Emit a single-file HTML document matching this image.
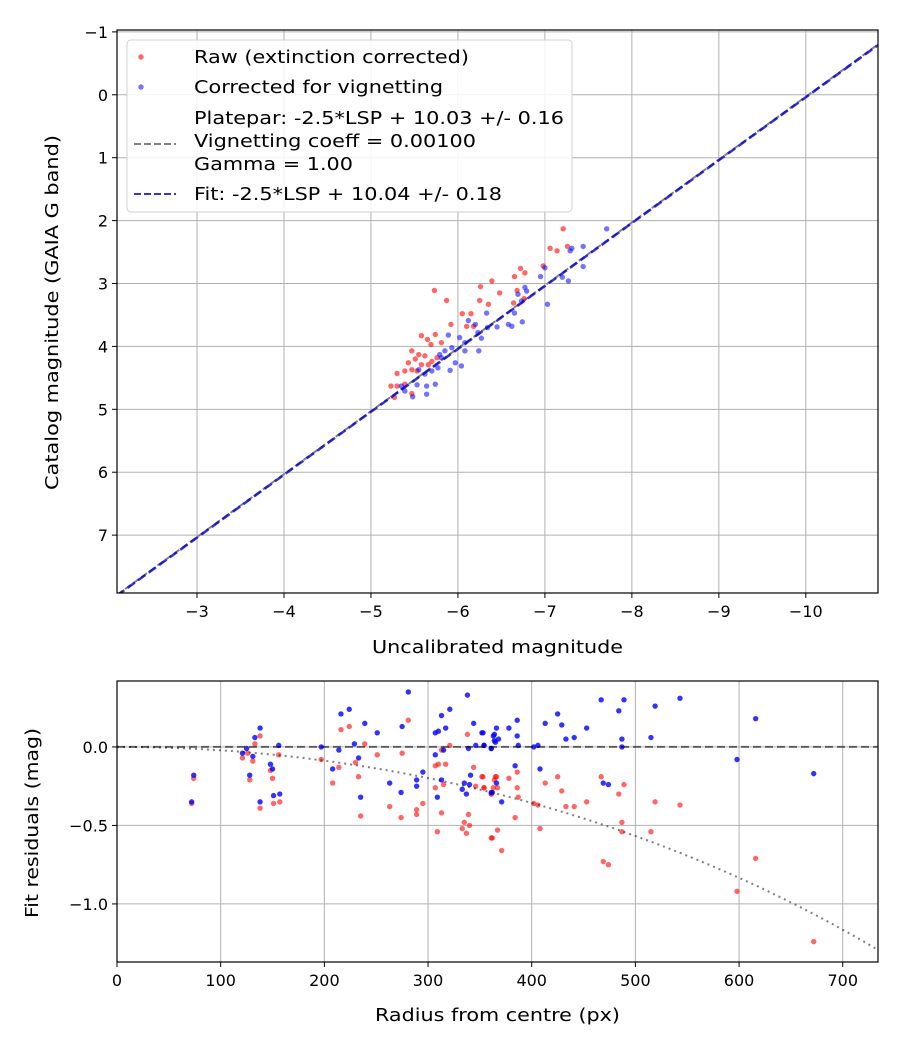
<!DOCTYPE html>
<html><head><meta charset="utf-8"><style>
body{margin:0;background:#fff;}
svg{display:block;font-family:"DejaVu Sans","Liberation Sans",sans-serif;}
</style></head><body>
<svg id="chart" width="900" height="1050" viewBox="0 0 900 1050" xmlns="http://www.w3.org/2000/svg"></svg>
<script>
// ---------- Top chart data ----------
const rawX = [-7.21,-7.06,-7.14,-7.26,-6.98,-6.72,-6.77,-6.65,-6.39,-6.26,-6.48,-5.73,-5.87,-6.25,-6.35,-6.68,-6.64,-6.76,-6.05,-6.15,-5.92,-6.1,-6.18,-5.74,-5.58,-5.65,-5.69,-5.47,-5.55,-5.62,-5.51,-5.43,-5.58,-5.47,-5.39,-5.3,-5.53,-5.66,-5.76,-5.81,-5.23,-5.3,-5.27,-5.47,-5.39,-5.7];
const rawY = [2.13,2.44,2.48,2.41,2.72,2.76,2.83,2.89,2.96,3.05,3.15,3.11,3.27,3.27,3.33,3.11,3.31,3.24,3.48,3.48,3.65,3.68,3.68,3.81,3.83,3.89,3.97,4.07,4.13,4.15,4.2,4.26,4.29,4.37,4.39,4.43,4.39,4.29,4.18,3.94,4.63,4.63,4.81,4.75,4.6,4.24];
const corX = [-7.71,-7.44,-7.31,-7.29,-7.44,-7.27,-7.2,-7.0,-6.95,-7.03,-6.77,-6.79,-6.69,-6.73,-6.65,-6.74,-6.58,-6.62,-6.45,-6.33,-6.34,-6.12,-6.2,-6.23,-6.27,-6.24,-6.08,-6.02,-5.89,-5.93,-5.85,-5.79,-6.04,-5.97,-5.91,-5.77,-5.7,-5.62,-5.55,-6.08,-5.74,-5.64,-5.64,-5.48,-5.35,-5.39,-5.53,-5.81];
const corY = [2.13,2.41,2.44,2.48,2.73,2.96,2.9,2.75,2.89,3.33,3.06,3.12,3.17,3.28,3.47,3.61,3.65,3.68,3.69,3.47,3.7,3.59,3.65,3.78,3.87,4.07,3.94,3.86,3.82,4.02,4.07,4.13,4.31,4.26,4.38,4.34,4.39,4.44,4.37,4.07,4.6,4.63,4.76,4.8,4.63,4.71,4.61,4.18];
const topXTicks = [-3,-4,-5,-6,-7,-8,-9,-10];
const topYTicks = [-1,0,1,2,3,4,5,6,7];
const plateparZP = 10.03;
const fitZP = 10.04;
// ---------- Bottom chart data ----------
const radCor = [74,72,138,133,125,121,131,128,138,148,150,151,157,156,197,216,224,214,208,229,239,233,251,235,263,274,275,281,295,289,289,307,310,313,321,317,307,315,313,309,338,344,352,339,346,354,361,363,365,341,335,340,333,337,361,353,354,361,364,366,364,368,378,386,386,387,402,406,413,425,429,433,441,453,467,484,489,487,487,515,519,543,616,598,672,384,408,366,362,371,469,474];
const resCor = [-0.18,-0.35,0.12,0.06,-0.01,-0.04,-0.06,-0.18,-0.35,-0.11,-0.14,-0.31,-0.30,0.01,0.0,0.21,0.24,-0.02,-0.14,0.02,0.15,-0.07,0.09,-0.32,-0.23,-0.29,0.13,0.35,-0.16,-0.21,-0.25,0.09,0.1,0.2,0.24,0.12,-0.05,-0.02,-0.21,-0.32,0.33,0.15,0.09,-0.01,0.01,0.01,-0.01,0.07,0.03,-0.18,-0.23,-0.24,-0.27,-0.3,-0.29,0.09,0.01,-0.01,0.08,0.12,0.04,0.05,0.12,0.17,0.07,0.01,0.0,0.01,0.15,0.21,0.14,0.05,0.06,0.12,0.3,0.23,0.3,0.05,0.0,0.06,0.26,0.31,0.18,-0.08,-0.17,-0.12,-0.14,-0.23,-0.29,-0.35,-0.23,-0.24];
const radRaw = [74,72,138,133,126,121,131,128,138,148,150,151,157,156,197,216,224,214,208,230,239,233,251,235,263,274,275,281,295,289,289,307,310,313,321,317,307,315,313,309,338,344,352,339,346,354,333,337,335,340,361,361,365,353,354,366,364,378,386,386,387,367,363,361,402,406,413,425,429,433,441,453,467,484,489,487,487,515,519,543,616,598,672,384,408,367,362,371,469,474];
const resRaw = [-0.2,-0.36,0.07,0.02,-0.04,-0.07,-0.09,-0.21,-0.39,-0.15,-0.2,-0.36,-0.35,-0.05,-0.08,0.11,0.13,-0.13,-0.23,-0.1,0.02,-0.19,-0.05,-0.44,-0.38,-0.45,-0.04,0.17,-0.36,-0.4,-0.43,-0.12,-0.11,-0.02,0.01,-0.11,-0.26,-0.24,-0.42,-0.54,0.08,-0.13,-0.19,-0.43,-0.25,-0.26,-0.52,-0.55,-0.48,-0.5,-0.58,-0.3,-0.19,-0.19,-0.26,-0.19,-0.21,-0.2,-0.16,-0.26,-0.32,-0.26,-0.26,-0.3,-0.36,-0.37,-0.23,-0.19,-0.28,-0.38,-0.38,-0.35,-0.19,-0.3,-0.24,-0.48,-0.54,-0.54,-0.35,-0.37,-0.71,-0.92,-1.24,-0.45,-0.52,-0.53,-0.58,-0.66,-0.73,-0.75];
const botXTicks = [0,100,200,300,400,500,600,700];
const botYTicks = [0.0,-0.5,-1.0];
const botYLabels = ["0.0","−0.5","−1.0"];
const vignCoeff = 0.001;

const NS="http://www.w3.org/2000/svg";
const svg=document.getElementById('chart');
function mk(tag,attrs,parent){const e=document.createElementNS(NS,tag);for(const k in attrs)e.setAttribute(k,attrs[k]);(parent||svg).appendChild(e);return e;}
function fmt(v){return (v<0?"−":"")+Math.abs(v);}

const T={l:117,r:878,t:30,b:593};
const txMin=-2.08, txMax=-10.83, tyMin=-1.03, tyMax=7.92;
const tx=v=>T.l+(v-txMin)/(txMax-txMin)*(T.r-T.l);
const ty=v=>T.t+(v-tyMin)/(tyMax-tyMin)*(T.b-T.t);
const B={l:117,r:878,t:681,b:962};
const bxMin=0,bxMax=734,byMin=0.42,byMax=-1.37;
const bx=v=>B.l+(v-bxMin)/(bxMax-bxMin)*(B.r-B.l);
const by=v=>B.t+(v-byMin)/(byMax-byMin)*(B.b-B.t);

mk('defs',{}).innerHTML='<clipPath id="ct"><rect x="117" y="30" width="761" height="563"/></clipPath><clipPath id="cb"><rect x="117" y="681" width="761" height="281"/></clipPath>';

const gTop=mk('g',{});


topXTicks.forEach(v=>{const x=tx(v);
 mk('line',{x1:x,x2:x,y1:T.t,y2:T.b,stroke:'#b0b0b0','stroke-width':1},gTop);
 mk('line',{x1:x,x2:x,y1:T.b,y2:T.b+5,stroke:'#000'},gTop);
 const t=mk('text',{x:x,y:T.b+24,'font-size':16,'text-anchor':'middle'});t.textContent=fmt(v);
 
 
});
topYTicks.forEach(v=>{const y=ty(v);
 mk('line',{x1:T.l,x2:T.r,y1:y,y2:y,stroke:'#b0b0b0','stroke-width':1},gTop);
 mk('line',{x1:T.l-5,x2:T.l,y1:y,y2:y,stroke:'#000'},gTop);
 const t=mk('text',{x:T.l-9,y:y+6,'font-size':16,'text-anchor':'end'});t.textContent=fmt(v);
 
 
});
const cg=mk('g',{'clip-path':'url(#ct)'});
const l1=mk('line',{x1:tx(txMin),y1:ty(txMin+plateparZP),x2:tx(txMax),y2:ty(txMax+plateparZP),stroke:'#808080','stroke-width':2,'stroke-dasharray':'7,3'},cg);


rawX.forEach((v,i)=>{const c=mk('circle',{cx:tx(v),cy:ty(rawY[i]),r:2.7,fill:'#ff0000','fill-opacity':0.6},cg);
 
 });
corX.forEach((v,i)=>{const c=mk('circle',{cx:tx(v),cy:ty(corY[i]),r:2.7,fill:'#0000ff','fill-opacity':0.55},cg);
 
 });
const l2=mk('line',{x1:tx(txMin),y1:ty(txMin+fitZP),x2:tx(txMax),y2:ty(txMax+fitZP),stroke:'#0000cc','stroke-opacity':0.8,'stroke-width':2.5,'stroke-dasharray':'9,4'},cg);


mk('rect',{x:T.l,y:T.t,width:T.r-T.l,height:T.b-T.t,fill:'none',stroke:'#000','stroke-width':1.2});

const lg=mk('g',{});


mk('rect',{x:127,y:40,width:445,height:172,rx:4,fill:'#fff','fill-opacity':0.85,stroke:'#d0d0d0'},lg);
mk('circle',{cx:141,cy:57,r:2.7,fill:'#ff0000','fill-opacity':0.6},lg);
mk('circle',{cx:141,cy:87,r:2.7,fill:'#0000ff','fill-opacity':0.55},lg);
mk('line',{x1:134,x2:176,y1:144,y2:144,stroke:'#808080','stroke-width':2,'stroke-dasharray':'7,3'},lg);
mk('line',{x1:134,x2:176,y1:194,y2:194,stroke:'#0000cc','stroke-opacity':0.8,'stroke-width':2,'stroke-dasharray':'7,3'},lg);
[["Raw (extinction corrected)",63,275],["Corrected for vignetting",93,249],["Platepar: -2.5*LSP + 10.03 +/- 0.16",124,370],["Vignetting coeff = 0.00100",147,282],["Gamma = 1.00",170,159],["Fit: -2.5*LSP + 10.04 +/- 0.18",200,308]].forEach(([s,y,w])=>{
 const t=mk('text',{x:194,y:y,'font-size':17.5,textLength:w,lengthAdjust:'spacingAndGlyphs'},lg);t.textContent=s;
 
 });

let t=mk('text',{x:372,y:653,'font-size':17.5,textLength:251,lengthAdjust:'spacingAndGlyphs'});t.textContent='Uncalibrated magnitude';


t=mk('text',{x:-490,y:58,'font-size':17.5,transform:'rotate(-90)',textLength:355,lengthAdjust:'spacingAndGlyphs'});t.textContent='Catalog magnitude (GAIA G band)';



const gB=mk('g',{});


botXTicks.forEach(v=>{const x=bx(v);
 mk('line',{x1:x,x2:x,y1:B.t,y2:B.b,stroke:'#b0b0b0'},gB);
 mk('line',{x1:x,x2:x,y1:B.b,y2:B.b+5,stroke:'#000'},gB);
 const t=mk('text',{x:x,y:B.b+24,'font-size':16,'text-anchor':'middle'});t.textContent=v;
 
 });
botYTicks.forEach((v,i)=>{const y=by(v);
 mk('line',{x1:B.l,x2:B.r,y1:y,y2:y,stroke:'#b0b0b0'},gB);
 mk('line',{x1:B.l-5,x2:B.l,y1:y,y2:y,stroke:'#000'},gB);
 const t=mk('text',{x:B.l-9,y:y+6,'font-size':16,'text-anchor':'end'});t.textContent=botYLabels[i];
 
 });
const cb=mk('g',{'clip-path':'url(#cb)'});
radRaw.forEach((v,i)=>{const c=mk('circle',{cx:bx(v),cy:by(resRaw[i]),r:2.7,fill:'#ff0000','fill-opacity':0.6},cb);
 
 });
radCor.forEach((v,i)=>{const c=mk('circle',{cx:bx(v),cy:by(resCor[i]),r:2.7,fill:'#0000ff','fill-opacity':0.8},cb);
 
 });
const zl=mk('line',{x1:B.l,x2:B.r,y1:by(0),y2:by(0),stroke:'#000','stroke-opacity':0.55,'stroke-width':2,'stroke-dasharray':'8,4'},cb);


let d='';for(let r=0;r<=740;r+=4){const v=10*Math.log10(Math.cos(vignCoeff*r));d+=(r?'L':'M')+bx(r).toFixed(1)+','+by(v).toFixed(1);}
const vc=mk('path',{d:d,fill:'none',stroke:'#000','stroke-opacity':0.5,'stroke-width':2,'stroke-dasharray':'2,4'},cb);


mk('rect',{x:B.l,y:B.t,width:B.r-B.l,height:B.b-B.t,fill:'none',stroke:'#000','stroke-width':1.2});
t=mk('text',{x:375,y:1021,'font-size':17.5,textLength:245,lengthAdjust:'spacingAndGlyphs'});t.textContent='Radius from centre (px)';


t=mk('text',{x:-918,y:38,'font-size':17.5,transform:'rotate(-90)',textLength:190,lengthAdjust:'spacingAndGlyphs'});t.textContent='Fit residuals (mag)';


</script>
</body></html>
